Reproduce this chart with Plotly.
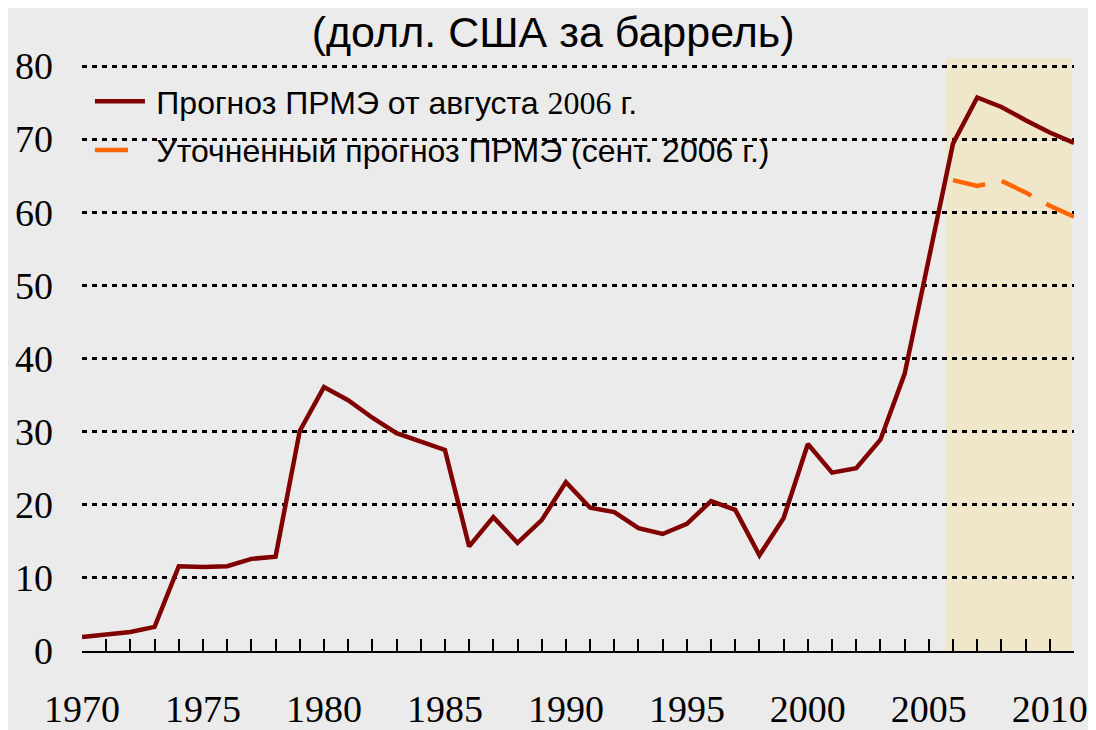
import plotly.graph_objects as go

years = list(range(1970, 2012))
aug_forecast = [1.9, 2.3, 2.6, 3.3, 11.6, 11.5, 11.6, 12.6, 12.9, 30.1,
                36.1, 34.3, 31.9, 29.8, 28.6, 27.5, 14.3, 18.3, 14.8, 17.9,
                23.1, 19.6, 19.0, 16.8, 16.0, 17.4, 20.5, 19.3, 13.1, 18.2,
                28.3, 24.4, 25.0, 28.9, 37.9, 53.5, 69.4, 75.7, 74.4, 72.6,
                70.9, 69.5]
sep_years = [2006, 2007, 2008, 2009, 2010, 2011]
sep_forecast = [64.4, 63.6, 64.3, 62.7, 60.9, 59.4]

tick_years = years
tick_text = [str(y) if y % 5 == 0 else "" for y in years]

bg = "#EBEBEB"
serif = "Liberation Serif"
sans = "Liberation Sans"

fig = go.Figure()

fig.add_trace(go.Scatter(
    x=years, y=aug_forecast, mode="lines",
    name="\u2009Прогноз ПРМЭ от августа <span style=\"font-family:'Liberation Serif'\">2006</span> г.",
    line=dict(color="#800000", width=4.5),
    legendgroup="a"))

fig.add_trace(go.Scatter(
    x=sep_years, y=sep_forecast, mode="lines",
    name="\u2009Уточненный прогноз ПРМЭ (сент. 2006 г.)",
    line=dict(color="#FF6600", width=4.5, dash="33px,17px"),
    legendgroup="b"))

# shaded forecast zone
fig.add_shape(type="rect", xref="x", yref="paper",
              x0=2005.7, x1=2010.9, y0=0, y1=1,
              fillcolor="#F0E6CA", line_width=0, layer="below")

# page has an 8px body margin, so the figure is sized 8px smaller
fig.update_layout(
    width=1088, height=722,
    paper_bgcolor=bg, plot_bgcolor=bg,
    margin=dict(l=74, r=22, t=50, b=79, autoexpand=False),
    title=dict(text="(долл. США за баррель)",
               font=dict(family=sans, size=43, color="black"),
               x=0.501, xref="container", xanchor="center",
               y=0.967, yref="container", yanchor="middle"),
    showlegend=True,
    legend=dict(x=0.008, y=0.973, xanchor="left", yanchor="top",
                bgcolor="rgba(0,0,0,0)", font=dict(family=sans, size=32, color="black"),
                itemwidth=50, tracegroupgap=4),
    xaxis=dict(range=[1970, 2011], tickvals=tick_years, ticktext=tick_text,
               ticks="inside", ticklen=12, tickwidth=2, tickcolor="black",
               showline=True, linecolor="black", linewidth=2,
               showgrid=False, zeroline=False,
               ticklabelstandoff=23,
               tickfont=dict(family=serif, size=38, color="black")),
    yaxis=dict(range=[0, 81.1], tickvals=[0, 10, 20, 30, 40, 50, 60, 70, 80],
               showgrid=True, gridcolor="black", gridwidth=2.5, griddash="5px,5px",
               zeroline=False, showline=False, ticks="",
               ticklabelstandoff=28,
               tickfont=dict(family=serif, size=38, color="black")),
)

fig.write_html("out.html")
